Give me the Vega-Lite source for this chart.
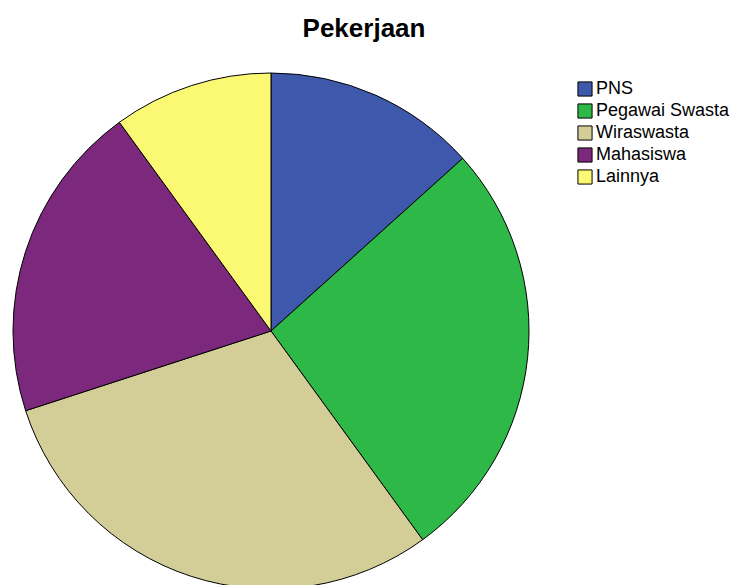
{
  "$schema": "https://vega.github.io/schema/vega-lite/v6.json",
  "width": 542,
  "height": 662,
  "autosize": {"type": "none"},
  "padding": {"left": 0, "top": 0, "right": 196, "bottom": 0},
  "background": "white",
  "title": {
    "text": "Pekerjaan",
    "font": "Liberation Sans",
    "fontSize": 26,
    "fontWeight": "bold",
    "color": "#000000",
    "anchor": "middle",
    "dx": 93,
    "offset": -42
  },
  "data": {
    "values": [
      {"kategori": "PNS", "jumlah": 4, "urut": 1},
      {"kategori": "Pegawai Swasta", "jumlah": 8, "urut": 2},
      {"kategori": "Wiraswasta", "jumlah": 9, "urut": 3},
      {"kategori": "Mahasiswa", "jumlah": 6, "urut": 4},
      {"kategori": "Lainnya", "jumlah": 3, "urut": 5}
    ]
  },
  "mark": {"type": "arc", "outerRadius": 258, "stroke": "#000000", "strokeWidth": 1},
  "encoding": {
    "theta": {"field": "jumlah", "type": "quantitative", "stack": true},
    "order": {"field": "urut", "type": "quantitative", "sort": "ascending"},
    "color": {
      "field": "kategori",
      "type": "nominal",
      "scale": {
        "domain": ["PNS", "Pegawai Swasta", "Wiraswasta", "Mahasiswa", "Lainnya"],
        "range": ["#3E58AC", "#2EB848", "#D3CE97", "#7C287D", "#FBF873"]
      },
      "legend": {
        "title": null,
        "orient": "none",
        "legendX": 576,
        "legendY": 80,
        "symbolType": "square",
        "symbolSize": 200,
        "symbolStrokeColor": "#000000",
        "symbolStrokeWidth": 1,
        "symbolOpacity": 1,
        "labelFont": "Liberation Sans",
        "labelFontSize": 18,
        "labelColor": "#000000",
        "labelOffset": 2,
        "rowPadding": 2
      }
    }
  }
}
